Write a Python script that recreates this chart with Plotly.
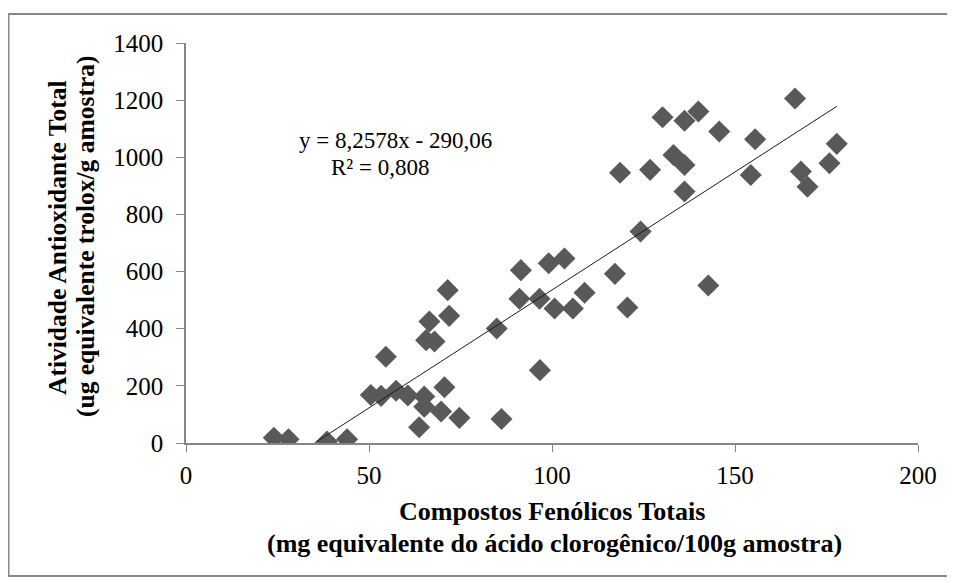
import plotly.graph_objects as go

# Compostos fenólicos totais (x) e atividade antioxidante total (y)
fenolicos = [24, 28, 38.5, 44,
             50.5, 53.3, 54.6, 57.4, 60.6, 63.7, 65.1, 65.1, 65.6, 66.5, 67.9,
             69.7, 70.6, 71.5, 71.9, 74.7,
             84.9, 86.2, 91.1, 91.5, 96.6, 96.7, 99.1, 100.7, 103.4, 105.7,
             108.9, 117.2, 118.6, 120.6, 124.2, 126.8, 130.2, 133.2, 136.2,
             136.2, 136.2, 140, 142.7, 145.7, 154.3, 155.5, 166.4, 168.0,
             169.8, 175.8, 177.8]
antioxidante = [18, 13, 5, 13,
                168, 165, 302, 183, 166, 55, 163, 127, 360, 425, 355,
                110, 195, 535, 445, 88,
                401, 84, 505, 605, 505, 255, 629, 471, 646, 471,
                526, 592, 946, 474, 740, 956, 1140, 1008, 973,
                880, 1128, 1160, 551, 1090, 938, 1063, 1206, 950,
                897, 979, 1047]

slope = 8.2578
intercept = -290.06
r2 = 0.808

serif = "Liberation Serif"

# linha de tendência, cortada em y = 0 como no Excel
x_start = -intercept / slope
x_end = max(fenolicos)
trend_x = [x_start, x_end]
trend_y = [slope * v + intercept for v in trend_x]

fig = go.Figure()
fig.add_trace(go.Scatter(x=fenolicos, y=antioxidante, mode="markers",
                         marker=dict(symbol="diamond", size=17, color="#595959",
                                     line=dict(width=0)),
                         showlegend=False))
fig.add_trace(go.Scatter(x=trend_x, y=trend_y, mode="lines",
                         line=dict(color="#1a1a1a", width=1),
                         showlegend=False))

# a página tem margem de 8px no body; a figura é descontada disso
W, H = 947, 575
L, T, R, B = 178, 35, 37, 140
pw, ph = W - L - R, H - T - B


def px(x):  # coordenada x da página -> paper
    return (x - 8 - L) / pw


def py(y):  # coordenada y da página -> paper
    return (H - B - (y - 8)) / ph


fig.update_layout(
    width=W, height=H,
    margin=dict(l=L, r=R, t=T, b=B),
    paper_bgcolor="white", plot_bgcolor="white",
    font=dict(family=serif, size=25, color="black"),
    xaxis=dict(range=[0, 200], dtick=50, showgrid=False, zeroline=False,
               showline=True, linecolor="#868686", linewidth=1.5,
               ticks="outside", ticklen=7, tickcolor="#868686",
               ticklabelstandoff=2, tickfont=dict(size=25)),
    yaxis=dict(range=[0, 1400], dtick=200, showgrid=False, zeroline=False,
               showline=True, linecolor="#868686", linewidth=1.5,
               ticks="outside", ticklen=8, tickcolor="#868686",
               ticklabelstandoff=8, tickfont=dict(size=25)),
    shapes=[dict(type="rect", xref="paper", yref="paper",
                 x0=px(8.5), x1=px(951), y0=py(576), y1=py(14),
                 line=dict(color="#888888", width=2))],
)


def label(text, x, y, size, angle=0):
    fig.add_annotation(xref="paper", yref="paper", x=px(x), y=py(y),
                       xanchor="center", yanchor="middle", text=text,
                       textangle=angle, showarrow=False,
                       font=dict(family=serif, size=size))


label("y = 8,2578x - 290,06", 395, 140, 23)
label("R² = 0,808", 380, 167, 23)

# títulos dos eixos
label("<b>Compostos Fenólicos Totais</b>", 552, 512, 26)
label("<b>(mg equivalente do ácido clorogênico/100g amostra)</b>", 554, 543, 26)
label("<b>Atividade Antioxidante Total</b>", 57, 238, 25.5, -90)
label("<b>(ug equivalente trolox/g amostra)</b>", 85, 237, 25.5, -90)

fig.write_html("out.html")
